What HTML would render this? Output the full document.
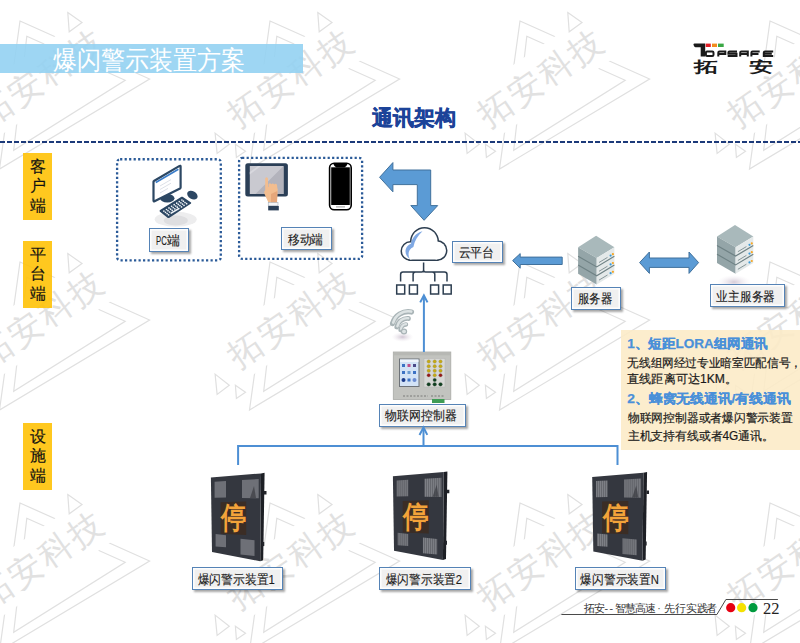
<!DOCTYPE html>
<html><head><meta charset="utf-8">
<style>
html,body{margin:0;padding:0;background:#fff;}
body{width:800px;height:643px;position:relative;overflow:hidden;font-family:"Liberation Sans",sans-serif;}
.a{position:absolute;}
.ylab{position:absolute;left:23px;width:29px;height:67px;background:rgba(255,192,0,.88);color:#111;font-size:16px;line-height:19.5px;text-align:center;box-sizing:border-box;padding-top:3.5px;-webkit-text-stroke:0.15px #111;}
.lab{position:absolute;box-sizing:border-box;border:1.5px solid #5583b6;background:#f0f0f0;box-shadow:inset 0 0 0 1.5px #fdfdfd,2px 2px 2px rgba(0,0,0,.35);color:#1a1a1a;font-size:12.5px;text-align:center;white-space:nowrap;}
.dot{position:absolute;box-sizing:border-box;}
</style></head><body>
<!-- watermark -->
<svg class="a" style="left:0;top:0" width="800" height="643">
<defs>
<g id="wmu">
<g fill="none" stroke="#e0e0e0" stroke-width="1.2">
<path d="M46 23 L175.6 81 L25.5 171 Z"/>
<path d="M52.8 38.3 L151.2 82.3 L39.7 152.3 Z"/>
</g>
<g transform="translate(14.4 129.9) rotate(-34.3)">
<rect x="-2" y="-38" width="146" height="51" fill="#fff"/>
<text x="0" y="0" fill="#e1e1e1" font-size="33.7" style="font-weight:300;letter-spacing:2.2px">拓安科技</text>
</g>
<g fill="none" stroke="#e0e0e0" stroke-width="1.2">
<path d="M93.8 14.6 L108 24.6 L95.2 33.8 Z"/>
<path d="M-8.9 135.1 L5.3 146.3 L-6.9 155.4 Z M11.4 146.3 L21.5 153.3 L12.4 159.4 Z"/>
</g>
</g>
</defs>
<use href="#wmu" x="-276" y="-243"/>
<use href="#wmu" x="-276" y="-2"/>
<use href="#wmu" x="-276" y="239"/>
<use href="#wmu" x="-276" y="480"/>
<use href="#wmu" x="-26" y="-243"/>
<use href="#wmu" x="-26" y="-2"/>
<use href="#wmu" x="-26" y="239"/>
<use href="#wmu" x="-26" y="480"/>
<use href="#wmu" x="224" y="-243"/>
<use href="#wmu" x="224" y="-2"/>
<use href="#wmu" x="224" y="239"/>
<use href="#wmu" x="224" y="480"/>
<use href="#wmu" x="474" y="-243"/>
<use href="#wmu" x="474" y="-2"/>
<use href="#wmu" x="474" y="239"/>
<use href="#wmu" x="474" y="480"/>
<use href="#wmu" x="724" y="-243"/>
<use href="#wmu" x="724" y="-2"/>
<use href="#wmu" x="724" y="239"/>
<use href="#wmu" x="724" y="480"/>
</svg>

<!-- title bar -->
<div class="a" style="left:0;top:44px;width:303px;height:29.4px;background:#93d1f2;opacity:.9"></div>
<div class="a" style="left:53px;top:43px;font-size:24px;line-height:32px;color:#fff;font-weight:300;white-space:nowrap;transform:scaleY(1.08);transform-origin:0 0">爆闪警示装置方案</div>

<!-- logo -->
<svg class="a" style="left:0;top:0" width="800" height="643">
<path d="M693.4 44.6 Q693.6 43.6 694.6 43.6 H705.2 V56.6 H700.7 V47.2 H695.4 Q694 47.2 693.4 44.6 Z" fill="#1a1a1a"/>
<rect x="705.7" y="43.6" width="5.1" height="3.4" fill="#e21e26"/>
<rect x="712" y="43.6" width="5" height="3.4" fill="#f28c1e"/>
<rect x="718" y="43.6" width="5.7" height="3.4" fill="#3aa845"/>
<g fill="none" stroke="#1a1a1a" stroke-width="2">
<rect x="705.9" y="51.6" width="7.6" height="4.3" rx="1.2"/>
<path d="M718.3 56.6 V52.8 Q718.3 51.6 719.5 51.6 H725.3 V53.9 H718.3"/>
<path d="M737 51.6 H729.6 Q728.4 51.6 728.4 52.6 V53.8 H736.5 V55.9 H727.7"/>
<path d="M740.2 56.6 V52.8 Q740.2 51.6 741.4 51.6 H747.8 V56.6 M740.2 54 H747.8"/>
<path d="M751.4 56.6 V52.8 Q751.4 51.6 752.6 51.6 H759.7 M751.4 54 H758.5"/>
<path d="M773.2 51.6 H765 Q763.8 51.6 763.8 52.8 V55.9 H773.2 M763.8 53.8 H771.8"/>
</g>
<g font-weight="900" fill="#1a1a1a" font-size="14.6">
<text x="0" y="0" transform="translate(694.3 72.3) scale(1.62 1)">拓</text>
<text x="0" y="0" transform="translate(749.4 72.3) scale(1.62 1)">安</text>
</g>
</svg>

<!-- heading -->
<div class="a" style="left:372px;top:102px;font-size:21px;line-height:32px;color:#1c4399;font-weight:bold;white-space:nowrap;-webkit-text-stroke:0.5px #1c4399">通讯架构</div>
<div class="a" style="left:0;top:140.6px;width:800px;height:2.2px;background:repeating-linear-gradient(90deg,#1c3a7a 0 5.4px,transparent 5.4px 7px)"></div>

<!-- side labels -->
<div class="ylab" style="top:153px">客<br>户<br>端</div>
<div class="ylab" style="top:241px">平<br>台<br>端</div>
<div class="ylab" style="top:423px">设<br>施<br>端</div>


<!-- dotted boxes -->
<svg class="a" style="left:0;top:0" width="800" height="643">
<g fill="none" stroke="#2a5a98" stroke-width="2.3" stroke-dasharray="2.2 2.3">
<rect x="117.1" y="159.25" width="103.7" height="101.05" rx="3"/>
<rect x="239.1" y="157.8" width="123" height="101.1" rx="3"/>
</g>
</svg>


<!-- icons -->
<svg class="a" style="left:0;top:0" width="800" height="643">
<defs>
<radialGradient id="shd" cx="50%" cy="50%" r="50%"><stop offset="0" stop-color="#cfcfd2"/><stop offset=".55" stop-color="#dedee0"/><stop offset="1" stop-color="#f4f4f5" stop-opacity="0"/></radialGradient>
<radialGradient id="shp" cx="50%" cy="50%" r="50%"><stop offset="0" stop-color="#b9a9bd" stop-opacity=".85"/><stop offset="1" stop-color="#e8e0ea" stop-opacity="0"/></radialGradient>
</defs>
<!-- PC -->
<ellipse cx="175.7" cy="219.3" rx="21" ry="7.5" fill="#ededee"/><ellipse cx="175.8" cy="220.5" rx="12" ry="5" fill="#dedee0"/>
<ellipse cx="167.3" cy="198.3" rx="7.2" ry="4.3" fill="#2c4763"/>
<path d="M153.9 181 L179.6 165.9 Q180.6 165.4 180.6 166.5 L180.6 187.6 Q180.6 188.2 180 188.6 L154.5 201.2 Q153.5 201.6 153.5 200.6 L153.5 181.7 Q153.5 181.2 153.9 181 Z" fill="#fff" stroke="#2c4763" stroke-width="2.2" stroke-linejoin="round"/>
<path d="M155.8 182.5 L178.4 169.3" stroke="#3a7cc8" stroke-width="1.6"/>
<path d="M160 186 L171 179.6 M160 189.5 L171 183.2 M160 193 L168 188.4" stroke="#d8dde4" stroke-width="0.9"/>
<ellipse cx="192.4" cy="195.1" rx="5.6" ry="3.9" transform="rotate(30 192.4 195.1)" fill="#2c4763"/>
<path d="M160.6 210.9 L182 197.7 L190.2 203 L168.5 217.1 Z" fill="#2c4763" stroke="#2c4763" stroke-width="2" stroke-linejoin="round"/>
<g fill="#eef2f6"><circle cx="163.9" cy="211.1" r="0.85"/><circle cx="166.5" cy="209.5" r="0.85"/><circle cx="169.0" cy="207.9" r="0.85"/><circle cx="171.6" cy="206.3" r="0.85"/><circle cx="174.2" cy="204.7" r="0.85"/><circle cx="176.7" cy="203.2" r="0.85"/><circle cx="179.3" cy="201.6" r="0.85"/><circle cx="181.9" cy="200.0" r="0.85"/><circle cx="165.5" cy="212.3" r="0.85"/><circle cx="168.0" cy="210.7" r="0.85"/><circle cx="170.6" cy="209.2" r="0.85"/><circle cx="173.2" cy="207.6" r="0.85"/><circle cx="175.7" cy="206.0" r="0.85"/><circle cx="178.3" cy="204.4" r="0.85"/><circle cx="180.9" cy="202.8" r="0.85"/><circle cx="183.4" cy="201.2" r="0.85"/><circle cx="167.1" cy="213.6" r="0.85"/><circle cx="169.6" cy="212.0" r="0.85"/><circle cx="172.2" cy="210.4" r="0.85"/><circle cx="174.8" cy="208.8" r="0.85"/><circle cx="177.3" cy="207.2" r="0.85"/><circle cx="179.9" cy="205.6" r="0.85"/><circle cx="182.5" cy="204.1" r="0.85"/><circle cx="185.0" cy="202.5" r="0.85"/><circle cx="168.6" cy="214.8" r="0.85"/><circle cx="181.5" cy="206.9" r="0.85"/><circle cx="184.0" cy="205.3" r="0.85"/><circle cx="186.6" cy="203.7" r="0.85"/><path d="M171.2 213.2 L178.9 208.5" stroke="#eef2f6" stroke-width="1.5" stroke-linecap="round"/></g>
<!-- tablet -->
<rect x="245.3" y="163.3" width="42.6" height="33.3" rx="2.5" fill="#2b3f57"/>
<rect x="249.8" y="166" width="33.7" height="28" fill="#c9c9d0"/>
<path d="M283.5 166 L283.5 194 L255.5 194 Z" fill="#b3b3bc"/>
<path d="M249.8 172 L258 166 L261 166 L249.8 174.5 Z" fill="#d8d8de"/>
<path d="M265.2 178.5 Q266.6 175.8 268 178.5 L268 187 L276.5 187.5 Q278 188 277.6 191 L277 202.5 L268.4 202.5 L264.5 194 Q263.5 191.5 265.2 190 Z" fill="#f2bd8f"/>
<path d="M268.5 184 Q270 182.5 271.3 184.2 Q272.8 182.6 274.2 184.4 Q275.6 183 277 184.8 L277.5 190 L268.5 190 Z" fill="#f2bd8f"/>
<path d="M271 194 L277.3 191 L277 202.5 L271 202.5 Z" fill="#e6a77a"/>
<rect x="268.2" y="202.6" width="9.8" height="3.2" fill="#f4f4f6" stroke="#9aa4b0" stroke-width=".5"/>
<rect x="268.2" y="206" width="10.6" height="4.4" fill="#2b3f57"/>
<!-- phone -->
<rect x="329.6" y="163.3" width="21.6" height="46.5" rx="4.5" fill="#fff" stroke="#000" stroke-width="1.6"/>
<rect x="331.2" y="167.3" width="18.6" height="37.7" fill="#000"/>
<path d="M333.3 163.8 H347.5 Q346.5 166.9 344.5 167.5 H336.3 Q334.3 166.9 333.3 163.8 Z" fill="#000"/>
<path d="M336 206.9 H345" stroke="#9a9a9a" stroke-width="1"/>
<!-- cloud -->
<g fill="none" stroke="#2d3e50" stroke-width="3">
<circle cx="410.5" cy="251" r="8.5"/><circle cx="424.5" cy="241.5" r="13"/><circle cx="437" cy="250.5" r="9"/><rect x="410" y="250" width="27" height="9.5"/>
</g>
<g fill="#fff">
<circle cx="410.5" cy="251" r="8.5"/><circle cx="424.5" cy="241.5" r="13"/><circle cx="437" cy="250.5" r="9"/><rect x="410" y="250" width="27" height="9.5"/>
</g>
<path d="M422.5 231.2 C415.5 232.8 411.8 238.5 411 243.8 C405.2 245.8 402.8 254 409.8 259 C407.4 254.5 408.3 249.2 413.4 247 C414.6 240.8 417.6 235.6 422.5 231.2 Z" fill="#7fa8e3"/>
<g fill="none" stroke="#2d3e50" stroke-width="1.5">
<path d="M423.6 262.5 V270 Q423.6 272 421.6 272 H403 Q400.6 272 400.6 274.5 V281.5 M413.1 281.5 V274.5 Q413.1 272 415.5 272 M423.6 270 Q423.6 272 425.6 272 H444.5 Q447 272 447 274.5 V281.5 M434.8 281.5 V274.5 Q434.8 272 432.3 272"/>
<rect x="396.7" y="285" width="8" height="9"/><rect x="409.4" y="285" width="8" height="9"/><rect x="430.6" y="285" width="8" height="9"/><rect x="443.2" y="285" width="8" height="9"/>
</g>
<!-- servers -->
<g id="srv">
<path d="M596.1 235.8 L614.4 247.3 L596.7 258 L578.1 247.3 Z" fill="#a9b9bb"/>
<path d="M578.1 247.3 L596.7 258 L596.7 284.5 L578.1 273.8 Z" fill="#94a5a8"/>
<path d="M596.7 258 L614.4 247.3 L614.4 273.8 L596.7 284.5 Z" fill="#e4e9e9"/>
<path d="M578.1 256.2 L596.7 266.9 L614.4 256.2 M578.1 265 L596.7 275.7 L614.4 265" fill="none" stroke="#6f8285" stroke-width="1.2"/>
<path d="M599 262.5 L607.5 257.4 M599 271.3 L607.5 266.2 M599 280.1 L607.5 275" stroke="#7b8b8e" stroke-width="0.9"/>
<g fill="#3b9ad6"><circle cx="610.6" cy="255.6" r="1.1"/><circle cx="610.6" cy="264.4" r="1.1"/><circle cx="610.6" cy="273.2" r="1.1"/></g>
<g fill="#f6a623"><circle cx="612.9" cy="254.2" r="1.1"/><circle cx="612.9" cy="263" r="1.1"/><circle cx="612.9" cy="271.8" r="1.1"/></g>
</g>
<ellipse cx="734" cy="282" rx="17" ry="7" fill="url(#shp)" opacity=".7"/>
<use href="#srv" transform="translate(138.9 -10.8)"/>
<!-- wifi -->
<ellipse cx="402.5" cy="337" rx="11" ry="5" fill="url(#shp)" opacity=".8"/>
<g fill="none" stroke-linecap="round">
<path d="M392.5 323.5 A16.5 16.5 0 0 1 411.5 312" stroke="#a9b4b7" stroke-width="5.2"/>
<path d="M393.2 322.6 A15.5 15.5 0 0 1 411.2 311.6" stroke="#dde3e4" stroke-width="2.6"/>
<path d="M396.8 327 A11 11 0 0 1 408.5 318.5" stroke="#a9b4b7" stroke-width="4.8"/>
<path d="M397.4 326.2 A10 10 0 0 1 408.3 318.2" stroke="#dde3e4" stroke-width="2.4"/>
<path d="M400.5 330 A6 6 0 0 1 406 324.5" stroke="#a9b4b7" stroke-width="4.4"/>
<path d="M401 329.3 A5 5 0 0 1 406 324.2" stroke="#dde3e4" stroke-width="2.2"/>
</g>
<ellipse cx="404" cy="331.5" rx="2.6" ry="2.3" fill="#dde3e4" stroke="#a9b4b7" stroke-width="1.2"/>
<!-- controller -->
<rect x="393.3" y="352" width="57.5" height="47.5" fill="#c2c3bf" stroke="#a9aaa6" stroke-width=".8"/>
<rect x="393.6" y="352.3" width="57" height="3" fill="#b7b8b4"/>
<rect x="399" y="358.5" width="20.5" height="28.5" fill="#6d7278"/>
<rect x="400" y="359.5" width="18.5" height="26.5" fill="#d3e3f6"/><rect x="400" y="359.5" width="18.5" height="2.5" fill="#eef4fb"/>
<g fill="#3c72c4"><rect x="402" y="364" width="3" height="3"/><rect x="407.5" y="364" width="3" height="3" fill="#c0508a"/><rect x="413" y="364" width="3" height="3" fill="#4a4a8a"/><rect x="402" y="371" width="3" height="3"/><rect x="407.5" y="371" width="3" height="3" fill="#6a9ad0"/><rect x="413" y="371" width="3" height="3"/><circle cx="403.5" cy="380" r="2" fill="#1a3a8a"/><rect x="407.5" y="378.5" width="3" height="3"/><circle cx="414.5" cy="380" r="2" fill="#6a8ad0"/></g>
<rect x="424" y="358.5" width="21" height="28.5" fill="#d7d8d6" stroke="#b5b6b3" stroke-width=".5"/>
<g stroke="#8a8a80" stroke-width=".3"><circle cx="428.7" cy="361.5" r="1.75" fill="#c6aa12"/><circle cx="434.7" cy="361.5" r="1.75" fill="#c6aa12"/><circle cx="440.5" cy="361.5" r="1.75" fill="#c6aa12"/><circle cx="428.7" cy="366.3" r="1.75" fill="#c6aa12"/><circle cx="434.7" cy="366.3" r="1.75" fill="#c6aa12"/><circle cx="440.5" cy="366.3" r="1.75" fill="#c6aa12"/><circle cx="428.7" cy="370.8" r="1.75" fill="#c6aa12"/><circle cx="434.7" cy="370.8" r="1.75" fill="#c6aa12"/><circle cx="440.5" cy="370.8" r="1.75" fill="#c6aa12"/><circle cx="428.7" cy="375.3" r="1.75" fill="#951818"/><circle cx="434.7" cy="375.3" r="1.75" fill="#c6aa12"/><circle cx="440.5" cy="375.3" r="1.75" fill="#951818"/><circle cx="434.7" cy="380" r="1.8" fill="#0f3f20"/><circle cx="428.7" cy="384.3" r="1.9" fill="#0f3f20"/><circle cx="434.7" cy="384.3" r="1.9" fill="#0f3f20"/><circle cx="440.5" cy="384.3" r="1.9" fill="#0f3f20"/></g>
<path d="M403 396 H428 M431 396 H444" stroke="#7a7b78" stroke-width="1" stroke-dasharray="2 1.5"/>
<rect x="432" y="399" width="12.5" height="4" fill="#3f9c55"/>
</svg>


<!-- devices -->
<svg class="a" style="left:0;top:0" width="800" height="643">
<defs>
<pattern id="led" x="0" y="0" width="2" height="2" patternUnits="userSpaceOnUse">
<rect width="2" height="2" fill="#55575e"/><rect x=".4" y=".4" width="1.2" height="1.2" fill="#9a9ca2"/>
</pattern>
</defs>
<g id="dev">
<path d="M261 473.4 L264.6 472.7 L263.2 560.2 L260.2 561.3 Z" fill="#1d1f25"/>
<path d="M210.9 477.6 L261 473.4 L260.2 561.3 L212 552 Z" fill="#34373f"/>
<path d="M264 491 h2.5 v3.5 h-2.5 Z M262 542 h2.2 v4 h-2.2 Z" fill="#22242a"/>
<path d="M214.6 481.7 L226 481 L226 497.5 L214.6 497.8 Z" fill="url(#led)"/>
<path d="M242 480.1 L258.7 479 L258.7 498.3 L242 498 Z" fill="url(#led)"/>
<path d="M215.6 534.1 L226 535.2 L226 547.3 L215.6 546.5 Z" fill="url(#led)"/>
<path d="M240.5 538.8 L254.5 540.2 L254.5 555.9 L240.5 554.6 Z" fill="url(#led)"/>
<path d="M250 498 L254 486 L256 498 Z" fill="#3a3c42" opacity=".7"/>
<path d="M220.6 502.2 L246.2 501.6 L246.2 534.9 L220.6 533.8 Z" fill="#3b2d25"/>
<text x="221.3" y="528.4" font-size="25" font-weight="bold" fill="#f3a33a" transform="translate(0 -95.2) scale(1 1.18)" style="font-family:'Liberation Sans',sans-serif">停</text>
</g>
<use href="#dev" transform="translate(392.9 476.3) scale(1.015 1.0) translate(-210.9 -477.6)"/>
<use href="#dev" transform="translate(592.2 477) scale(1.022 1.0) translate(-210.9 -477.6)"/>
</svg>

<!-- footer -->
<svg class="a" style="left:0;top:0" width="800" height="643">
<path d="M561.4 614.5 H716.9 L725.9 599.5 H777.9" fill="none" stroke="#4a4a4a" stroke-width="1"/>
<circle cx="730.7" cy="607.7" r="4.6" fill="#e60012"/>
<circle cx="741.6" cy="607.7" r="4.6" fill="#f5e100"/>
<circle cx="753" cy="607.7" r="4.6" fill="#009a3e"/>
<text x="763" y="613.8" font-size="16.5" fill="#222" style="font-family:'Liberation Serif',serif">22</text>
<text x="584 594.2 604.5 609.5 614.5 625.1 634.9 644.5 657.3 664.1 674.9 686.3 696.9 705.8" y="611.6" font-size="10.5" fill="#333" style="font-family:'Liberation Serif',serif;font-weight:300">拓安--智慧高速·先行实践者</text>
</svg>

<!-- labels -->
<div class="lab" style="left:149px;top:228px;width:40px;height:23.5px;line-height:20.5px"></div>
<div class="lab" style="left:281.3px;top:227px;width:50.4px;height:23.4px;line-height:20.4px"></div>
<div class="lab" style="left:452px;top:240.5px;width:50.8px;height:22.8px;line-height:19.8px"></div>
<div class="lab" style="left:571.2px;top:286.5px;width:50.3px;height:23.1px;line-height:20.1px"></div>
<div class="lab" style="left:710px;top:284px;width:74.6px;height:22.6px;line-height:19.6px"></div>
<div class="lab" style="left:379.4px;top:404px;width:86.2px;height:22.6px;line-height:19.6px"></div>
<div class="lab" style="left:192px;top:567.3px;width:90.7px;height:23.2px;line-height:20.2px"></div>
<div class="lab" style="left:379.2px;top:566.8px;width:91.5px;height:23.5px;line-height:20.5px"></div>
<div class="lab" style="left:574.8px;top:567.2px;width:91.5px;height:23.1px;line-height:20.1px"></div>


<svg class="a" style="left:0;top:0" width="800" height="643">
<g fill="#1a1a1a" font-size="12.5" stroke="#1a1a1a" stroke-width="0.12">
<text x="156" y="244.6" textLength="10.8" lengthAdjust="spacingAndGlyphs">PC</text><text x="167.4" y="244.6">端</text>
<text x="287.8" y="243.6" textLength="35.3" lengthAdjust="spacingAndGlyphs">移动端</text>
<text x="458.5" y="256.5" textLength="35.6" lengthAdjust="spacingAndGlyphs">云平台</text>
<text x="577.6" y="303" textLength="34.5" lengthAdjust="spacingAndGlyphs">服务器</text>
<text x="716.4" y="300.9" textLength="58.6" lengthAdjust="spacingAndGlyphs">业主服务器</text>
<text x="385.2" y="420" textLength="71.6" lengthAdjust="spacingAndGlyphs">物联网控制器</text>
<text x="197.5" y="583.5" textLength="77.2" lengthAdjust="spacingAndGlyphs">爆闪警示装置1</text>
<text x="385.8" y="583.5" textLength="76.3" lengthAdjust="spacingAndGlyphs">爆闪警示装置2</text>
<text x="580.4" y="583.5" textLength="78.5" lengthAdjust="spacingAndGlyphs">爆闪警示装置N</text>
</g>
</svg>

<!-- info box -->
<div class="a" style="left:621px;top:329.5px;width:179px;height:120px;background:#fcebc6;opacity:.88"></div>
<svg class="a" style="left:0;top:0" width="800" height="643">
<g font-weight="bold" fill="#4a90d9" font-size="13" stroke="#4a90d9" stroke-width="0.25">
<text x="627.3" y="347.6" textLength="140.5" lengthAdjust="spacingAndGlyphs">1、短距LORA组网通讯</text>
<text x="627.3" y="403" textLength="163.3" lengthAdjust="spacingAndGlyphs">2、蜂窝无线通讯/有线通讯</text>
</g>
<g fill="#1a1a1a" font-size="12" stroke="#1a1a1a" stroke-width="0.2">
<text x="627.3" y="366.6" textLength="174.5" lengthAdjust="spacingAndGlyphs">无线组网经过专业暗室匹配信号，</text>
<text x="627.3" y="383.4" textLength="109.6" lengthAdjust="spacingAndGlyphs">直线距离可达1KM。</text>
<text x="627.8" y="422.1" textLength="165" lengthAdjust="spacingAndGlyphs">物联网控制器或者爆闪警示装置</text>
<text x="627.8" y="440.1" textLength="146" lengthAdjust="spacingAndGlyphs">主机支持有线或者4G通讯。</text>
</g>
</svg>

<!-- arrows & lines -->
<svg class="a" style="left:0;top:0" width="800" height="643">
<g fill="#5b9bd5" stroke="#41719c" stroke-width="1">
<path d="M379.6 177.3 L392.9 162.6 L392.9 170 L430.7 170 L430.7 205.6 L437.7 205.6 L424.1 220.3 L410.8 205.6 L417.3 205.6 L417.3 184.6 L392.9 184.6 L392.9 191.8 Z"/>
<path d="M512.6 260.6 L520.2 253.6 L520.2 257.1 L562.2 257.1 L562.2 264.5 L520.2 264.5 L520.2 268.2 Z"/>
<path d="M639.6 262.6 L649.4 252 L649.4 258 L689 258 L689 252 L698.6 262.6 L689 273.4 L689 267.4 L649.4 267.4 L649.4 273.4 Z"/>
</g>
<g fill="none" stroke="#4d8fd4" stroke-width="2">
<path d="M423.9 297 V352"/>
<path d="M420.2 302.4 L423.9 295.5 L427.5 302.4"/>
<path d="M423.5 429 V446 M238.1 465 V446 H617.5 V465"/>
<path d="M419.5 434.9 L423.5 427.5 L427.3 434.9"/>
</g>
</svg>

</body></html>
